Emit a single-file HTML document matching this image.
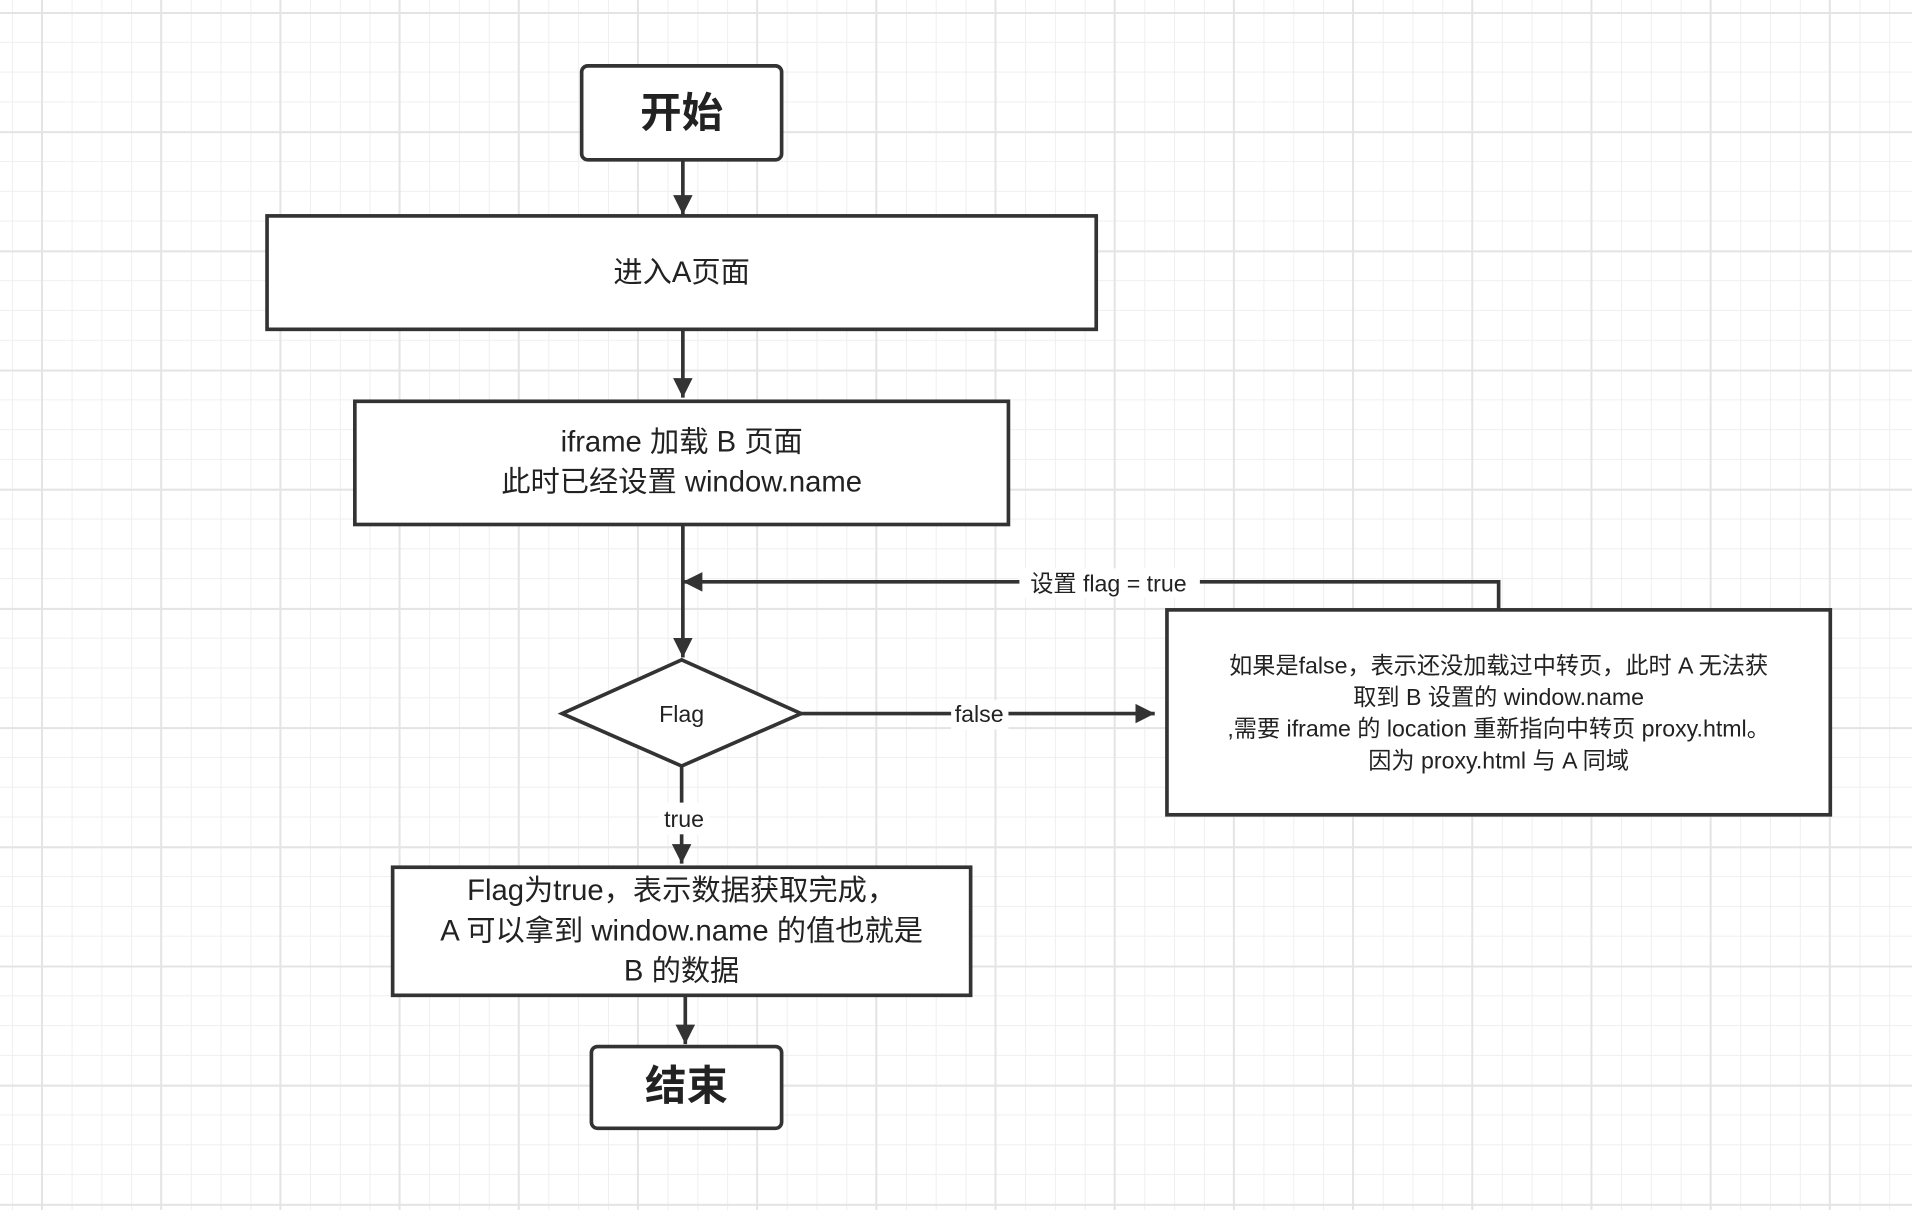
<!DOCTYPE html>
<html><head><meta charset="utf-8"><style>
html,body{margin:0;padding:0;}
body{width:1912px;height:1210px;overflow:hidden;background-color:#fff;
background-image:
linear-gradient(to right,#e4e4e4 2px,transparent 2px),
linear-gradient(to bottom,#e4e4e4 2px,transparent 2px),
linear-gradient(to right,#efefef 1px,transparent 1px),
linear-gradient(to bottom,#efefef 1px,transparent 1px);
background-size:119.2px 119.2px,119.2px 119.2px,29.8px 29.8px,29.8px 29.8px;
background-position:41px 12px,41px 12px,12px 12px,12px 12px;}
svg{position:absolute;left:0;top:0;}
text{font-family:"Liberation Sans","Noto Sans CJK SC",sans-serif;fill:#222;}
</style></head><body>
<svg width="1912" height="1210" viewBox="0 0 1568 992" preserveAspectRatio="none">
<defs><marker id="a" markerWidth="10" markerHeight="10" refX="9" refY="5" orient="auto" markerUnits="userSpaceOnUse"><path d="M0,0 L10,5 L0,10 Z" fill="#333" transform="scale(1)"/></marker>
<marker id="b" viewBox="0 0 10 10" markerWidth="16" markerHeight="18" refX="10" refY="5" orient="auto" markerUnits="userSpaceOnUse"><path d="M0,0 L10,5 L0,10 Z" fill="#333"/></marker></defs>
<g stroke="#333" stroke-width="3" fill="#fff">
<rect x="477" y="54" width="164" height="77" rx="5"/>
<rect x="219" y="177" width="680" height="93"/>
<rect x="291" y="329" width="536" height="101"/>
<polygon points="461,585 559,541 657,585 559,628"/>
<rect x="957" y="500" width="544" height="168"/>
<rect x="322" y="711" width="474" height="105"/>
<rect x="485" y="858" width="156" height="67" rx="5"/>
</g>
<g stroke="#333" stroke-width="3" fill="none">
<line x1="560" y1="131" x2="560" y2="176" marker-end="url(#b)"/>
<line x1="560" y1="270" x2="560" y2="326" marker-end="url(#b)"/>
<line x1="560" y1="430" x2="560" y2="539" marker-end="url(#b)"/>
<polyline points="1229,500 1229,477 560,477" marker-end="url(#b)"/>
<line x1="657" y1="585" x2="947" y2="585" marker-end="url(#b)"/>
<line x1="559" y1="628" x2="559" y2="708" marker-end="url(#b)"/>
<line x1="562" y1="816" x2="562" y2="856" marker-end="url(#b)"/>
</g>
<g fill="#fff">
<rect x="836" y="466" width="148" height="24"/>
<rect x="780" y="574" width="47" height="24"/>
<rect x="540" y="658" width="42" height="26"/>
</g>
<g text-anchor="middle">
<text x="559" y="104" font-size="34" font-weight="bold">开始</text>
<text x="559" y="231" font-size="24">进入A页面</text>
<text x="559" y="370" font-size="24">iframe 加载 B 页面</text>
<text x="559" y="403" font-size="24">此时已经设置 window.name</text>
<text x="559" y="592" font-size="19">Flag</text>
<text x="909" y="485" font-size="19">设置 flag = true</text>
<text x="803" y="592" font-size="19">false</text>
<text x="561" y="678" font-size="19">true</text>
<text x="1229" y="552" font-size="19">如果是false，表示还没加载过中转页，此时 A 无法获</text>
<text x="1229" y="578" font-size="19">取到 B 设置的 window.name</text>
<text x="1229" y="604" font-size="19">,需要 iframe 的 location 重新指向中转页 proxy.html。</text>
<text x="1229" y="630" font-size="19">因为 proxy.html 与 A 同域</text>
<text x="559" y="738" font-size="24">Flag为true，表示数据获取完成，</text>
<text x="559" y="771" font-size="24">A 可以拿到 window.name 的值也就是</text>
<text x="559" y="804" font-size="24">B 的数据</text>
<text x="563" y="902" font-size="34" font-weight="bold">结束</text>
</g>
</svg>
</body></html>
